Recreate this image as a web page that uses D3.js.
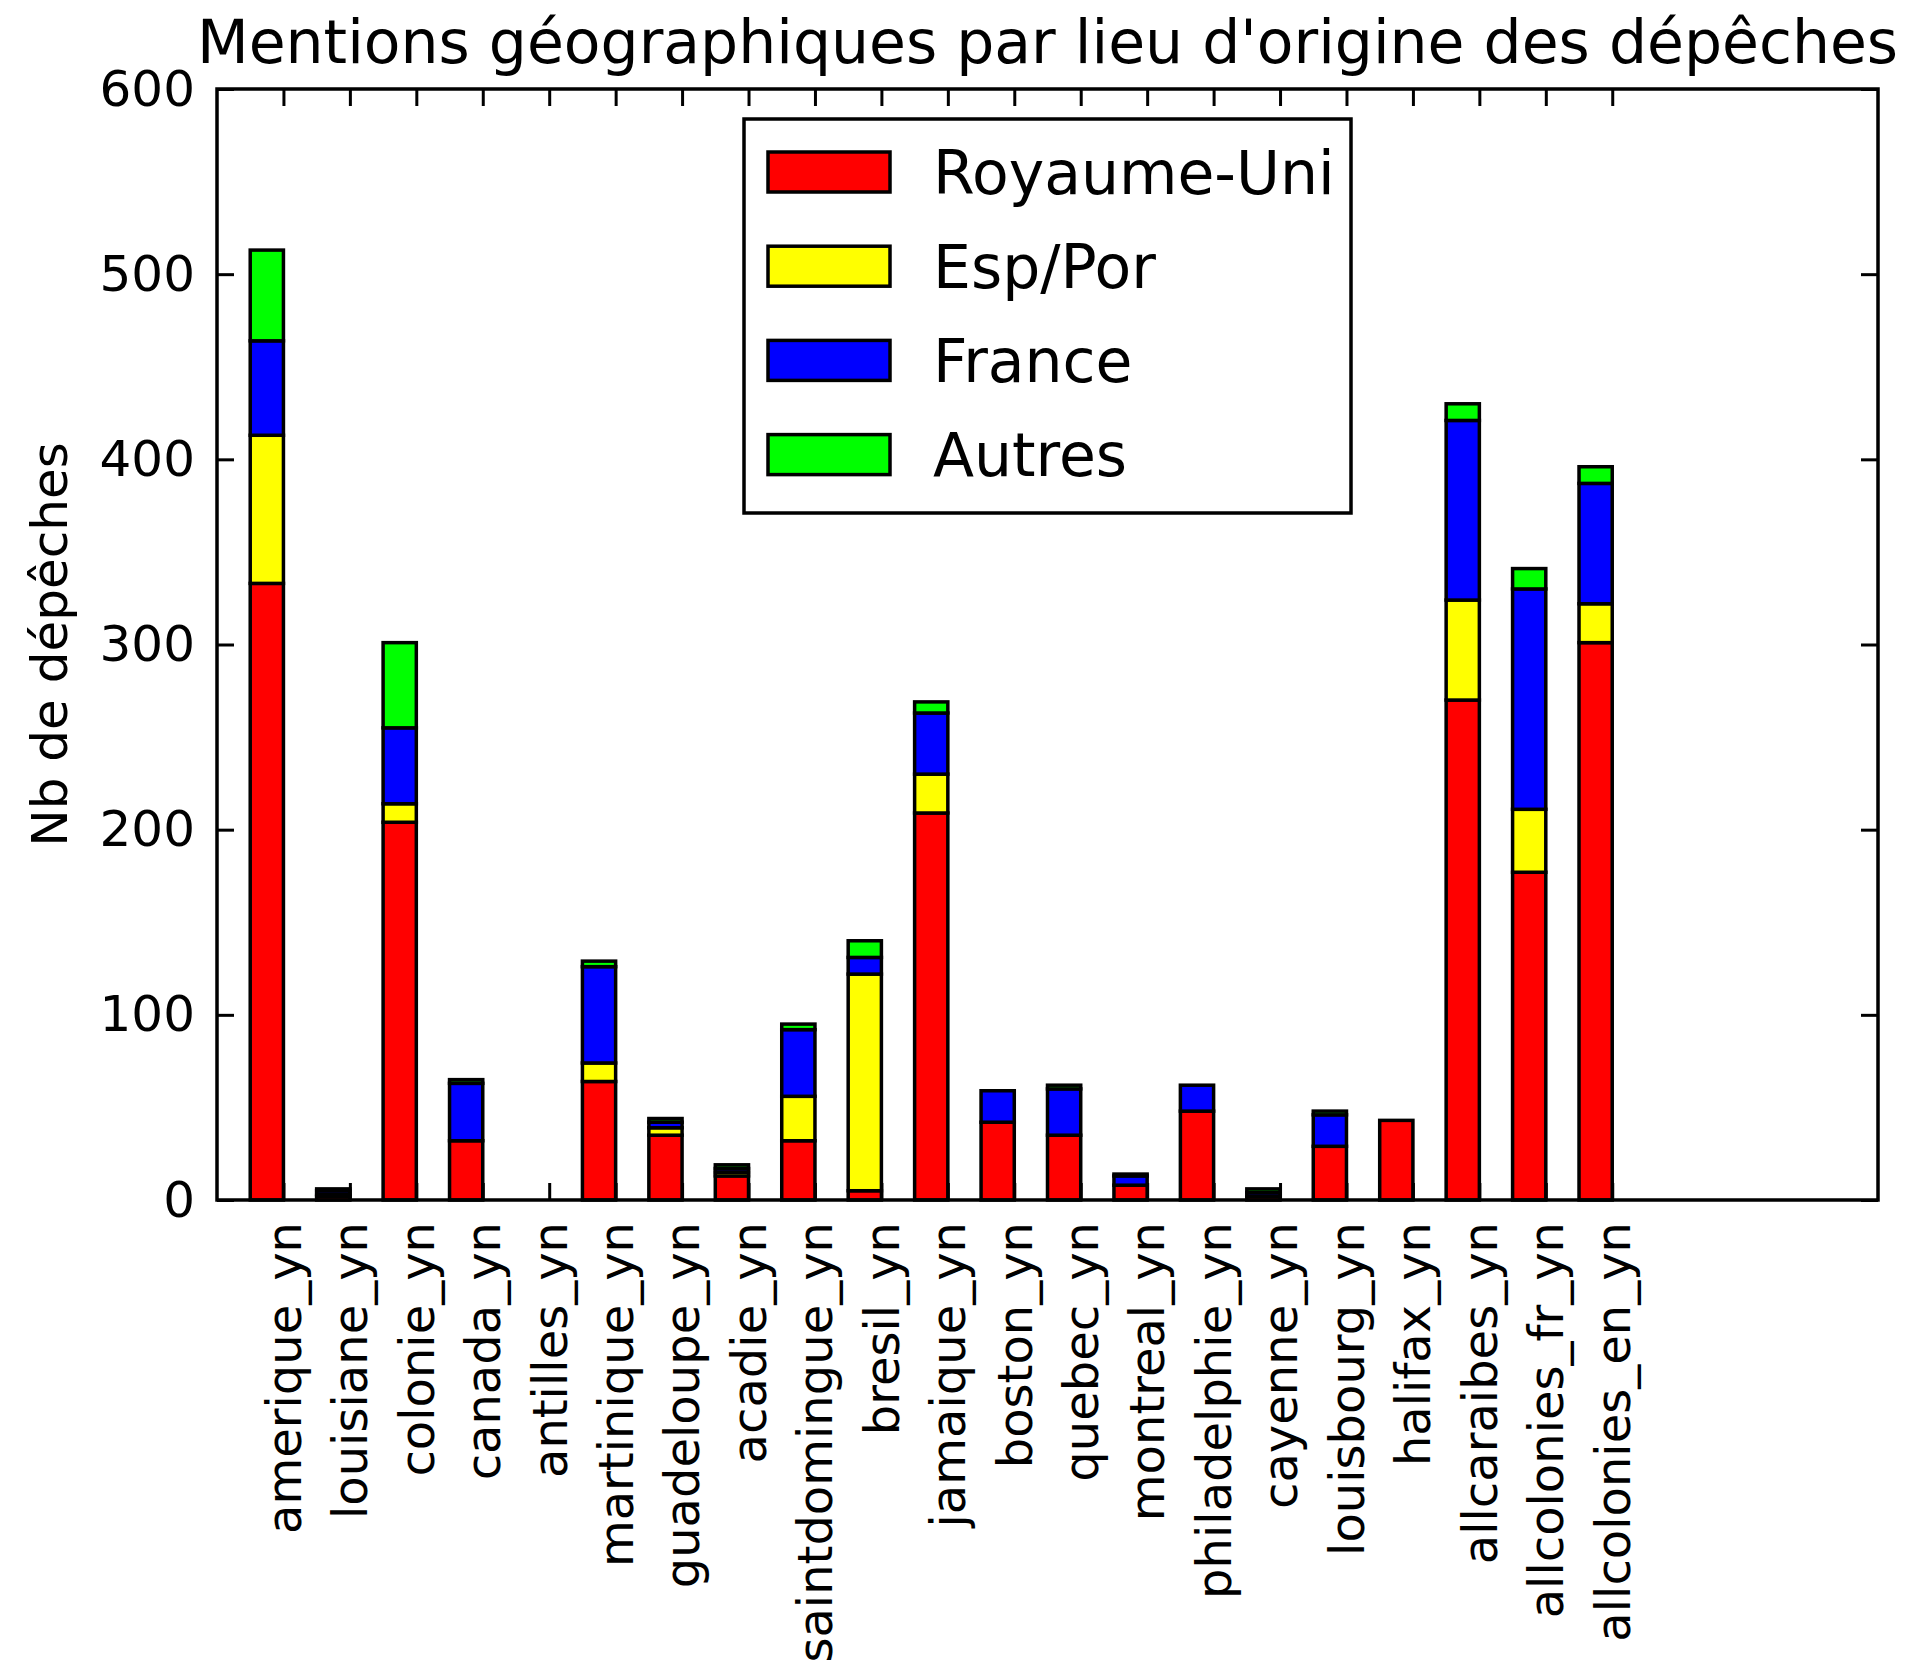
<!DOCTYPE html>
<html>
<head>
<meta charset="utf-8">
<script src="https://cdn.jsdelivr.net/npm/d3@7"></script>
<style>
  body { margin: 0; background: #fff; }
  text { font-family: "DejaVu Sans", sans-serif; fill: #000; }
</style>
</head>
<body>
<div id="chart"></div>
<script>
// Chart values
const categories = ['amerique_yn', 'louisiane_yn', 'colonie_yn', 'canada_yn', 'antilles_yn',
    'martinique_yn', 'guadeloupe_yn', 'acadie_yn', 'saintdomingue_yn', 'bresil_yn',
    'jamaique_yn', 'boston_yn', 'quebec_yn', 'montreal_yn', 'philadelphie_yn',
    'cayenne_yn', 'louisbourg_yn', 'halifax_yn', 'allcaraibes_yn', 'allcolonies_fr_yn',
    'allcolonies_en_yn'];
const royaumeUni = [333, 2, 204, 32, 0, 64, 35, 13, 32, 5, 209, 42, 35, 8, 48, 2, 29, 43, 270, 177, 301];
const espPor     = [80, 1, 10, 0, 0, 10, 4, 2, 24, 117, 21, 0, 0, 0, 0, 0, 0, 0, 54, 34, 21];
const france     = [51, 2, 41, 31, 0, 52, 3, 2, 36, 9, 33, 17, 25, 5, 14, 2, 17, 0, 97, 119, 65];
const autres     = [49, 1, 46, 2, 0, 3, 2, 2, 3, 9, 6, 0, 2, 1, 0, 2, 2, 0, 9, 11, 9];
const seriesNames = ['Royaume-Uni', 'Esp/Por', 'France', 'Autres'];
const seriesColors = ['#ff0000', '#ffff00', '#0000ff', '#00ff00'];
const yTicks = [0, 100, 200, 300, 400, 500, 600];

const W = 1910, H = 1676;
const MARGIN = { left: 217, top: 89, right: 32, bottom: 476 };
const width = W - MARGIN.left - MARGIN.right;
const height = H - MARGIN.top - MARGIN.bottom;
const BAR_W = 0.5;   // bar width in x units
const TICK = 17;     // inward tick length
const LINE = 3.5;

const svg = d3.select('#chart').append('svg')
    .attr('width', W)
    .attr('height', H);

const g = svg.append('g')
    .attr('transform', `translate(${MARGIN.left}, ${MARGIN.top})`);

// x positions: tick i+1 for category i, xlim 0..25
const x = d3.scaleLinear().domain([0, 25]).range([0, width]);
const y = d3.scaleLinear().domain([0, 600]).range([height, 0]);
const tickPos = categories.map((c, i) => i + 1);

// Stack the series
const table = categories.map((c, i) => ({
    cat: c, pos: i + 1,
    'Royaume-Uni': royaumeUni[i], 'Esp/Por': espPor[i], 'France': france[i], 'Autres': autres[i]
}));
const stacked = d3.stack().keys(seriesNames)(table);

stacked.forEach((layer, k) => {
    g.append('g')
        .selectAll('rect')
        .data(layer)
        .join('rect')
        .attr('x', d => x(d.data.pos - BAR_W))
        .attr('width', x(BAR_W) - x(0))
        .attr('y', d => y(d[1]))
        .attr('height', d => y(d[0]) - y(d[1]))
        .attr('fill', seriesColors[k])
        .attr('stroke', '#000')
        .attr('stroke-width', LINE);
});

// Axes, ticks pointing inward on all four sides
const styleAxis = sel => {
    sel.select('.domain').remove();
    sel.selectAll('line').attr('stroke', '#000').attr('stroke-width', 3);
};

g.append('g')
    .call(d3.axisLeft(y).tickValues(yTicks).tickSize(-TICK).tickPadding(22))
    .call(styleAxis)
    .selectAll('text')
    .style('font-size', '50px')
    .style('font-family', 'DejaVu Sans')
    .attr('fill', '#000');

g.append('g')
    .attr('transform', `translate(${width}, 0)`)
    .call(d3.axisRight(y).tickValues(yTicks).tickSize(-TICK).tickFormat(''))
    .call(styleAxis);

g.append('g')
    .call(d3.axisTop(x).tickValues(tickPos).tickSize(-TICK).tickFormat(''))
    .call(styleAxis);

const xAxis = g.append('g')
    .attr('transform', `translate(0, ${height})`)
    .call(d3.axisBottom(x).tickValues(tickPos).tickSize(-TICK).tickFormat((d, i) => categories[i]))
    .call(styleAxis);

xAxis.selectAll('text')
    .style('font-size', '48px')
    .style('font-family', 'DejaVu Sans')
    .attr('fill', '#000')
    .attr('text-anchor', 'end')
    .attr('x', 0)
    .attr('y', 0)
    .attr('dy', '0.35em')
    .attr('transform', 'translate(0, 22) rotate(-90)');

// Frame
g.append('rect')
    .attr('width', width)
    .attr('height', height)
    .attr('fill', 'none')
    .attr('stroke', '#000')
    .attr('stroke-width', LINE);

// Title
svg.append('text')
    .attr('x', MARGIN.left + width / 2)
    .attr('y', 63)
    .attr('text-anchor', 'middle')
    .style('font-size', '60px')
    .text("Mentions géographiques par lieu d'origine des dépêches");

// Y axis label
svg.append('text')
    .attr('transform', `translate(67, ${MARGIN.top + height / 2}) rotate(-90)`)
    .attr('text-anchor', 'middle')
    .style('font-size', '50px')
    .text('Nb de dépêches');

// Legend (upper center)
const LEG = { w: 607, h: 394, top: 30, row: 94.2, first: 53, patchX: 24, patchW: 122, patchH: 40, textX: 189 };
const legend = g.append('g')
    .attr('transform', `translate(${width / 2 - LEG.w / 2}, ${LEG.top})`);

legend.append('rect')
    .attr('width', LEG.w)
    .attr('height', LEG.h)
    .attr('fill', '#fff')
    .attr('stroke', '#000')
    .attr('stroke-width', LINE);

const items = legend.selectAll('.item')
    .data(seriesNames)
    .join('g')
    .attr('class', 'item')
    .attr('transform', (d, i) => `translate(0, ${LEG.first + i * LEG.row})`);

items.append('rect')
    .attr('x', LEG.patchX)
    .attr('y', -LEG.patchH / 2)
    .attr('width', LEG.patchW)
    .attr('height', LEG.patchH)
    .attr('fill', (d, i) => seriesColors[i])
    .attr('stroke', '#000')
    .attr('stroke-width', LINE);

items.append('text')
    .attr('x', LEG.textX)
    .attr('dy', '0.36em')
    .style('font-size', '60px')
    .text(d => d);
</script>
</body>
</html>
